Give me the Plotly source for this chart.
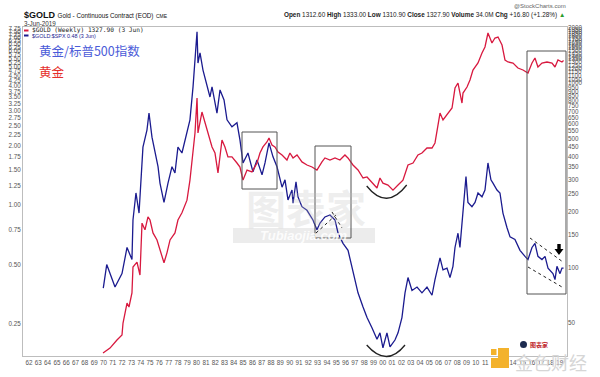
import math
import plotly.graph_objects as go

# ---------------- data ----------------
ratio_years = [1969.98, 1970.35, 1971.24, 1971.99, 1972.53, 1973.06, 1973.17, 1973.49, 1973.82, 1974.14,
               1974.24, 1974.67, 1974.89, 1975.21, 1975.53, 1975.86, 1976.07, 1976.50, 1976.93, 1977.36,
               1977.68, 1978.00, 1978.43, 1978.97, 1979.29, 1979.62, 1980.05, 1980.15, 1980.37, 1980.69,
               1981.12, 1981.44, 1981.66, 1982.19, 1982.52, 1982.95, 1983.27, 1983.80, 1984.34, 1984.66,
               1984.99, 1985.52, 1986.06, 1986.49, 1987.03, 1987.35, 1987.78, 1988.21, 1988.64, 1989.18,
               1989.50, 1989.82, 1990.25, 1990.36, 1990.68, 1990.89, 1991.32, 1991.86, 1992.50, 1992.93,
               1993.26, 1993.79, 1994.33, 1994.87, 1995.20, 1995.73, 1996.27, 1996.69, 1997.02, 1997.34,
               1997.88, 1998.31, 1998.84, 1999.38, 1999.70, 2000.02, 2000.45, 2000.78, 2001.31, 2001.64,
               2002.06, 2002.39, 2002.71, 2003.14, 2003.68, 2004.21, 2004.75, 2005.29, 2005.61, 2006.15,
               2006.47, 2006.90, 2007.22, 2007.54, 2007.76, 2008.08, 2008.29, 2008.62, 2008.94, 2009.15,
               2009.58, 2009.91, 2010.23, 2010.66, 2010.98, 2011.30, 2011.62, 2011.84, 2012.27, 2012.59,
               2012.91, 2013.34, 2013.67, 2014.20, 2014.74, 2015.28, 2015.60, 2016.03, 2016.35, 2016.67,
               2017.10, 2017.43, 2017.75, 2018.28, 2018.50, 2018.71, 2019.04, 2019.25, 2019.42]
ratio_values = [0.38, 0.50, 0.385, 0.45, 0.61, 0.53, 0.84, 1.15, 0.91, 1.69,
                1.96, 2.39, 2.91, 2.20, 1.83, 1.56, 1.29, 1.03, 1.29, 1.56,
                1.45, 1.96, 1.83, 2.31, 2.69, 3.95, 7.49, 5.21, 5.86, 4.80,
                3.95, 3.51, 3.95, 2.91, 3.81, 3.39, 2.69, 2.48, 2.60, 2.13,
                1.63, 1.83, 1.47, 1.69, 1.42, 1.63, 2.06, 1.75, 1.56, 1.23,
                1.34, 1.06, 1.19, 1.02, 1.31, 1.10, 0.98, 0.94, 0.84, 0.75,
                0.81, 0.87, 0.89, 0.84, 0.72, 0.64, 0.59, 0.49, 0.42, 0.36,
                0.305, 0.27, 0.24, 0.21, 0.226, 0.19, 0.226, 0.192, 0.208, 0.226,
                0.27, 0.36, 0.43, 0.37, 0.385, 0.36, 0.385, 0.35, 0.42, 0.54,
                0.47, 0.48, 0.43, 0.49, 0.61, 0.72, 0.61, 0.98, 1.39, 1.03,
                0.98, 1.03, 1.15, 1.10, 1.19, 1.63, 1.34, 1.29, 1.19, 1.15,
                0.91, 0.77, 0.69, 0.67, 0.59, 0.55, 0.53, 0.61, 0.64, 0.55,
                0.53, 0.55, 0.48, 0.45, 0.42, 0.49, 0.45, 0.48, 0.48]

gold_years = [1969.95, 1970.70, 1971.45, 1971.99, 1972.10, 1972.53, 1972.74, 1973.06, 1973.17, 1973.60,
              1973.92, 1974.14, 1974.46, 1974.78, 1975.00, 1975.32, 1975.75, 1976.07, 1976.50, 1976.82,
              1977.15, 1977.68, 1978.00, 1978.43, 1978.97, 1979.29, 1979.62, 1979.83, 1980.05, 1980.15,
              1980.58, 1980.90, 1981.23, 1981.66, 1981.98, 1982.30, 1982.73, 1983.05, 1983.37, 1983.80,
              1984.34, 1984.66, 1984.99, 1985.42, 1985.95, 1986.49, 1986.81, 1987.13, 1987.56, 1987.78,
              1988.10, 1988.42, 1988.75, 1989.18, 1989.71, 1990.03, 1990.36, 1990.79, 1991.32, 1991.86,
              1992.40, 1992.93, 1993.47, 1993.79, 1994.33, 1994.87, 1995.40, 1995.94, 1996.26, 1996.80,
              1997.34, 1997.88, 1998.31, 1998.84, 1999.38, 1999.70, 2000.02, 2000.56, 2001.10, 2001.64,
              2002.17, 2002.71, 2003.25, 2003.78, 2004.21, 2004.75, 2005.29, 2005.61, 2006.15, 2006.47,
              2007.01, 2007.44, 2007.76, 2008.08, 2008.51, 2008.62, 2009.05, 2009.37, 2009.69, 2010.23,
              2010.66, 2010.98, 2011.30, 2011.73, 2012.05, 2012.38, 2012.81, 2013.13, 2013.45, 2013.99,
              2014.52, 2015.06, 2015.60, 2016.03, 2016.35, 2016.67, 2017.10, 2017.64, 2018.18, 2018.50,
              2018.82, 2019.25, 2019.42]
gold_price = [34.3, 36.5, 40.4, 43.0, 49.9, 64.1, 61.0, 72.7, 100.6, 107,
              91, 174, 160, 188, 181, 154, 141, 124, 106, 120,
              141, 154, 181, 198, 232, 298, 418, 537, 832, 537,
              698, 608, 537, 451, 418, 326, 492, 451, 398, 398,
              369, 351, 298, 338, 330, 369, 418, 451, 480, 504,
              462, 451, 423, 408, 383, 418, 393, 408, 374, 360,
              351, 338, 374, 393, 383, 393, 383, 408, 393, 360,
              338, 306, 310, 291, 270, 306, 287, 280, 263, 280,
              298, 360, 369, 408, 418, 445, 445, 474, 689, 632,
              689, 734, 942, 1003, 781, 885, 954, 1041, 1180, 1288,
              1459, 1573, 1874, 1654, 1760, 1782, 1613, 1337, 1304, 1288,
              1210, 1180, 1137, 1288, 1371, 1225, 1288, 1304, 1288, 1225,
              1337, 1304, 1328]

year_ticks = list(range(1962, 2020))
year_labels = ["%02d" % (y % 100) for y in year_ticks]
ratio_ticks = [0.25, 0.50, 0.75, 1.00, 1.25, 1.50, 1.75, 2.00, 2.25, 2.50, 2.75, 3.00, 3.25, 3.50,
               3.75, 4.00, 4.25, 4.50, 4.75, 5.00, 5.25, 5.50, 5.75, 6.00, 6.25, 6.50, 6.75, 7.00,
               7.25, 7.50, 7.75]
ratio_labels = ["%.2f" % v for v in ratio_ticks]
gold_ticks = [50, 100, 150, 200, 250, 300, 350, 400, 450, 500, 550, 600, 650, 700, 750, 800, 850,
              900, 950, 1000, 1050, 1100, 1150, 1200, 1250, 1300, 1350, 1400, 1450, 1500, 1550,
              1600, 1650, 1700, 1750, 1800, 1850, 1900, 1950, 2000]
gold_labels = [str(v) for v in gold_ticks]

# ---------------- layout helpers (pixel -> paper) ----------------
L, R, T, B = 23, 567, 27, 356


def px(x):
    return (x - L) / (R - L)


def py(y):
    return (B - y) / (B - T)


FONT = "Liberation Sans, Arial, sans-serif"
CJK = "Noto Sans CJK SC, sans-serif"
BLUE = "#1b1b8f"
RED = "#d8193f"

fig = go.Figure()
fig.add_trace(go.Scatter(x=ratio_years, y=ratio_values, mode="lines",
                         line=dict(color=BLUE, width=1.3), yaxis="y", hoverinfo="skip"))
fig.add_trace(go.Scatter(x=gold_years, y=gold_price, mode="lines",
                         line=dict(color=RED, width=1.3), yaxis="y2", hoverinfo="skip"))

shapes = []


def rect(x0, y0, x1, y1, **kw):
    d = dict(type="rect", xref="paper", yref="paper", x0=px(x0), y0=py(y0), x1=px(x1), y1=py(y1))
    d.update(kw)
    shapes.append(d)


def line(x0, y0, x1, y1, **kw):
    d = dict(type="line", xref="paper", yref="paper", x0=px(x0), y0=py(y0), x1=px(x1), y1=py(y1))
    d.update(kw)
    shapes.append(d)


def path(points, close=True, **kw):
    s = "M " + " L ".join("%f,%f" % (px(a), py(b)) for a, b in points)
    if close:
        s += " Z"
    d = dict(type="path", xref="paper", yref="paper", path=s)
    d.update(kw)
    shapes.append(d)


def arc(x0, y0, xc, yc, x1, y1, **kw):
    s = "M %f,%f Q %f,%f %f,%f" % (px(x0), py(y0), px(xc), py(yc), px(x1), py(y1))
    d = dict(type="path", xref="paper", yref="paper", path=s)
    d.update(kw)
    shapes.append(d)


# watermark band (below data)
rect(233, 228, 375, 243, fillcolor="#ececec", line=dict(width=0), layer="below")

# boxes
box_line = dict(color="#555555", width=1)
rect(242, 132, 277, 189, line=box_line)
rect(315, 146, 351, 238, line=box_line)
rect(527, 51, 566, 294, line=box_line)

# dashed trend lines
dash = dict(color="#222222", width=1, dash="dot")
line(316, 233, 336, 215, line=dash)
line(332, 212, 342, 228, line=dash)
line(530, 238, 563, 262, line=dash)
line(528, 267, 562, 287, line=dash)

# black down arrow
path([(557.3, 244), (560.7, 244), (560.7, 249), (563.5, 249), (559, 255), (554.5, 249), (557.3, 249)],
     fillcolor="#000000", line=dict(width=0))

# smile arcs
arc(366.7, 186, 386.7, 211, 406.7, 185, line=dict(color="#222222", width=1.3))
arc(366.7, 345, 386.7, 368, 405, 345, line=dict(color="#222222", width=1.3))

# legend markers
line(24, 30.5, 28.5, 30.5, line=dict(color=RED, width=2))
line(24, 35.5, 28.5, 35.5, line=dict(color=BLUE, width=2))

# bottom-right logos
path([(498, 348), (509, 348), (509, 368), (491, 368), (491, 358), (498, 358)],
     fillcolor="#f3b22c", line=dict(width=0))
rect(491, 349, 496.5, 355, fillcolor="#f3b22c", line=dict(width=0))
shapes.append(dict(type="circle", xref="paper", yref="paper", x0=px(520), y0=py(348), x1=px(527),
                   y1=py(341), fillcolor="#1d2b4f", line=dict(width=0)))

annotations = []


def text(x, y, s, size=7, color="#222222", anchor="left", family=FONT, vanchor="middle", **kw):
    d = dict(x=px(x), y=py(y), xref="paper", yref="paper", text=s, showarrow=False,
             xanchor=anchor, yanchor=vanchor, font=dict(size=size, color=color, family=family))
    d.update(kw)
    annotations.append(d)


# header
text(22, 15, "<b>$GOLD</b> <span style='font-size:6.3px'>Gold - Continuous Contract (EOD)</span> "
     "<span style='font-size:5px'>CME</span>", size=9, color="#111111")
text(22, 23.5, "3-Jun-2019", size=6.3, color="#333333")
text(567, 14.5, "<b>Open</b> 1312.60 <b>High</b> 1333.00 <b>Low</b> 1310.90 <b>Close</b> 1327.90 "
     "<b>Volume</b> 34.0M <b>Chg</b> +16.80 (+1.28%) <span style='color:#2a9d2a'>▲</span>",
     size=6.4, color="#222222", anchor="right")
text(568, 6, "@StockCharts.com", size=6, color="#666666", anchor="right")

# legend text
text(30, 30.5, "$GOLD (Weekly) 1327.90 (3 Jun)", size=6.2, color="#222222",
     family="DejaVu Sans Mono, monospace")
text(30, 35.8, "$GOLD:$SPX 0.48 (3 Jun)", size=5.4, color=BLUE)

# chinese labels
text(37, 50, "黄金/标普500指数", size=12.5, color="#4b5bd8", family=CJK)
text(37, 71, "黄金", size=12.5, color="#e5302b", family=CJK)

# watermark
text(306, 207, "<b>图表家</b>", size=40, color="rgba(190,190,190,0.25)", anchor="center", family=CJK)
text(304, 235.5, "<b><i>Tubiaojia.com</i></b>", size=13, color="rgba(255,255,255,0.85)",
     anchor="center", family=FONT)
text(528, 344.5, "<b>图表家</b>", size=6, color="#c0262b", family=CJK)
text(513, 362, "金色财经", size=18, color="#d6d6d6", family=CJK)

fig.update_layout(
    width=600, height=377,
    margin=dict(l=L, r=600 - R, t=T, b=377 - B, autoexpand=False),
    paper_bgcolor="white", plot_bgcolor="white",
    showlegend=False,
    font=dict(family=FONT, size=7, color="#555555"),
    xaxis=dict(range=[1961.356, 2019.79], tickmode="array", tickvals=year_ticks, ticktext=year_labels,
               tickangle=0, showgrid=False, zeroline=False, showline=True, linecolor="#bdbdbd",
               linewidth=1, mirror=True, ticks="", automargin=False,
               tickfont=dict(size=6.3, color="#555555")),
    yaxis=dict(type="log", range=[math.log10(0.1727), math.log10(7.92)], tickmode="array",
               tickvals=ratio_ticks, ticktext=ratio_labels, showgrid=False, zeroline=False,
               showline=True, linecolor="#bdbdbd", linewidth=1, mirror=True, ticks="",
               automargin=False, tickfont=dict(size=6.3, color="#555555")),
    yaxis2=dict(type="log", overlaying="y", side="right", range=[math.log10(33.06), math.log10(2020)],
                tickmode="array", tickvals=gold_ticks, ticktext=gold_labels, showgrid=False,
                zeroline=False, showline=False, ticks="", automargin=False,
                tickfont=dict(size=6.3, color="#555555")),
    shapes=shapes,
    annotations=annotations,
)

fig.write_html("out.html", config={"displayModeBar": False},
               post_script="document.body.style.margin='0px';document.body.style.padding='0px';")
